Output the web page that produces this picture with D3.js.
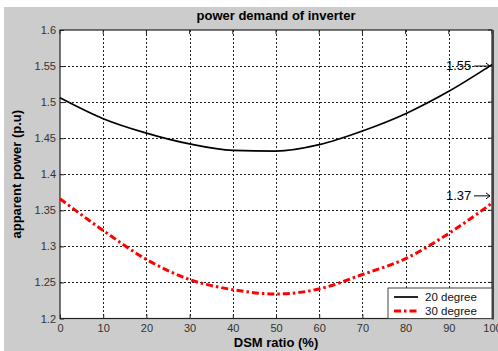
<!DOCTYPE html>
<html>
<head>
<meta charset="utf-8">
<script src="https://cdn.jsdelivr.net/npm/d3@7"></script>
<style>
  html, body { margin: 0; padding: 0; background: #ffffff; }
  svg { display: block; font-family: "Liberation Sans", Arial, sans-serif; }
</style>
</head>
<body>
<svg id="chart" width="498" height="351"></svg>
<script>
// DSM ratio (%) and apparent power (p.u) for each inverter angle
const dsmRatio = [0, 10, 20, 30, 40, 50, 60, 70, 80, 90, 100];
const power20 = [1.506, 1.477, 1.457, 1.442, 1.433, 1.432, 1.441, 1.460, 1.484, 1.515, 1.552];
const power30 = [1.366, 1.322, 1.282, 1.254, 1.240, 1.234, 1.241, 1.261, 1.283, 1.318, 1.360];
const xTicks = [0, 10, 20, 30, 40, 50, 60, 70, 80, 90, 100];
const yTicks = [1.2, 1.25, 1.3, 1.35, 1.4, 1.45, 1.5, 1.55, 1.6];
const seriesNames = ["20 degree", "30 degree"];
const endLabels = ["1.55", "1.37"];
const endValues = [1.55, 1.37];

const svg = d3.select("#chart");
const W = 498, H = 351;
const m = { left: 60, top: 30, right: 492, bottom: 318.5 };

// figure background
svg.append("rect").attr("x", 4).attr("y", 7).attr("width", W - 4).attr("height", H - 7)
  .attr("fill", "#cccccc");

const x = d3.scaleLinear().domain([0, 100]).range([m.left, m.right]);
const y = d3.scaleLinear().domain([1.2, 1.6]).range([m.bottom, m.top]);

// plot area
svg.append("rect").attr("x", m.left).attr("y", m.top)
  .attr("width", m.right - m.left).attr("height", m.bottom - m.top).attr("fill", "#ffffff");

// dotted grid
const grid = svg.append("g").attr("stroke", "#222").attr("stroke-width", 1)
  .attr("stroke-dasharray", "2,2");
grid.selectAll("line.gx").data(xTicks.slice(1, -1)).join("line")
  .attr("x1", d => Math.round(x(d)) + 0.5).attr("x2", d => Math.round(x(d)) + 0.5)
  .attr("y1", m.top).attr("y2", m.bottom);
grid.selectAll("line.gy").data(yTicks.slice(1, -1)).join("line")
  .attr("y1", d => Math.round(y(d)) + 0.5).attr("y2", d => Math.round(y(d)) + 0.5)
  .attr("x1", m.left).attr("x2", m.right);

// axes with inward ticks
const xAxis = svg.append("g").attr("transform", `translate(0,${m.bottom})`)
  .call(d3.axisBottom(x).tickValues(xTicks).tickFormat(d3.format("d")).tickSize(-4).tickPadding(5));
const yAxis = svg.append("g").attr("transform", `translate(${m.left},0)`)
  .call(d3.axisLeft(y).tickValues(yTicks).tickFormat(d => String(d)).tickSize(-4).tickPadding(4));
[xAxis, yAxis].forEach(a => {
  a.select(".domain").remove();
  a.selectAll("line").attr("stroke", "#222");
  a.selectAll("text").attr("fill", "#333").style("font-size", "11px")
    .style("font-family", "'Liberation Sans', Arial, sans-serif");
});
xAxis.selectAll("text").attr("dy", "0.78em");

// top/right inward ticks
svg.append("g").selectAll("line").data(xTicks).join("line")
  .attr("x1", d => x(d)).attr("x2", d => x(d)).attr("y1", m.top).attr("y2", m.top + 4)
  .attr("stroke", "#222");
svg.append("g").selectAll("line").data(yTicks).join("line")
  .attr("y1", d => y(d)).attr("y2", d => y(d)).attr("x1", m.right).attr("x2", m.right - 4)
  .attr("stroke", "#222");

// axes box
svg.append("rect").attr("x", m.left).attr("y", m.top)
  .attr("width", m.right - m.left).attr("height", m.bottom - m.top)
  .attr("fill", "none").attr("stroke", "#222").attr("stroke-width", 1.2);
svg.append("line").attr("x1", m.right + 1).attr("x2", m.right + 1)
  .attr("y1", m.top).attr("y2", m.bottom + 1).attr("stroke", "#444").attr("stroke-width", 2);

// curves
const line = d3.line().x((d, i) => x(dsmRatio[i])).y(d => y(d)).curve(d3.curveMonotoneX);
svg.append("path").datum(power20).attr("d", line)
  .attr("fill", "none").attr("stroke", "#000").attr("stroke-width", 1.7);
svg.append("path").datum(power30).attr("d", line)
  .attr("fill", "none").attr("stroke", "#ff0000").attr("stroke-width", 3)
  .attr("stroke-dasharray", "7,3,2.5,3");

// end-point annotations with arrows
endValues.forEach((v, i) => {
  const yy = y(v);
  svg.append("text").attr("x", x(100) - 46).attr("y", yy + 4)
    .attr("text-anchor", "start").style("font-size", "13px").attr("fill", "#000")
    .text(endLabels[i]);
  svg.append("line").attr("x1", x(100) - 18).attr("x2", x(100) - 2)
    .attr("y1", yy).attr("y2", yy).attr("stroke", "#000").attr("stroke-width", 1);
  svg.append("path").attr("d", `M${x(100) - 6},${yy - 3} L${x(100) - 2},${yy} L${x(100) - 6},${yy + 3}`)
    .attr("fill", "none").attr("stroke", "#000").attr("stroke-width", 1);
});

// legend
const lg = svg.append("g");
lg.append("rect").attr("x", 388).attr("y", 288).attr("width", 104).attr("height", 30.5)
  .attr("fill", "#fff").attr("stroke", "#444").attr("stroke-width", 1);
const legendStyles = [
  { stroke: "#000", width: 1.7, dash: null },
  { stroke: "#ff0000", width: 3, dash: "7,3,2.5,3" }
];
seriesNames.forEach((name, i) => {
  const ly = 297 + i * 14;
  lg.append("line").attr("x1", 394).attr("x2", 418).attr("y1", ly).attr("y2", ly)
    .attr("stroke", legendStyles[i].stroke).attr("stroke-width", legendStyles[i].width)
    .attr("stroke-dasharray", legendStyles[i].dash);
  lg.append("text").attr("x", 425).attr("y", ly + 4).style("font-size", "11.5px")
    .attr("fill", "#111").text(name);
});

// title and axis labels
svg.append("text").attr("x", (m.left + m.right) / 2).attr("y", 20).attr("text-anchor", "middle")
  .style("font-size", "13px").style("font-weight", "bold").text("power demand of inverter");
svg.append("text").attr("x", (m.left + m.right) / 2).attr("y", 347).attr("text-anchor", "middle")
  .style("font-size", "13px").style("font-weight", "bold").text("DSM ratio (%)");
svg.append("text").attr("transform", `translate(21,${(m.top + m.bottom) / 2}) rotate(-90)`)
  .attr("text-anchor", "middle").style("font-size", "13px").style("font-weight", "bold")
  .text("apparent power (p.u)");
</script>
</body>
</html>
